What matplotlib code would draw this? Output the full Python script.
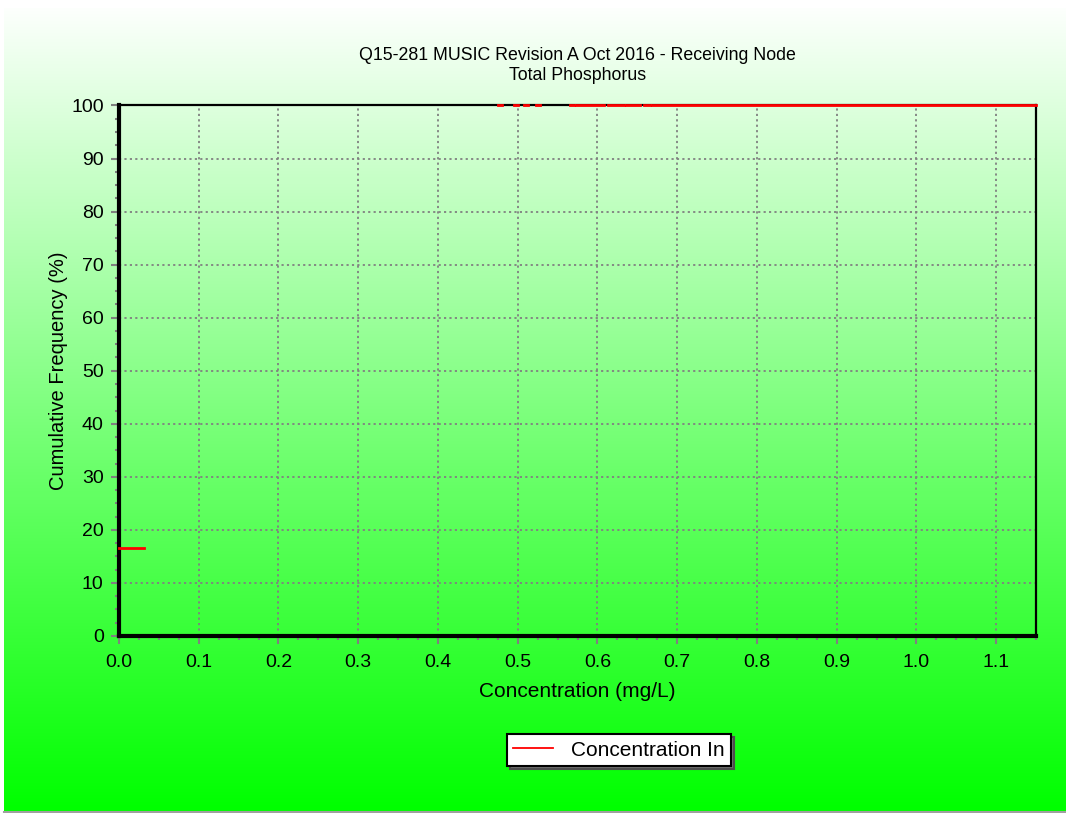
import numpy as np
import matplotlib
matplotlib.use("Agg")
import matplotlib.pyplot as plt
from matplotlib.ticker import MultipleLocator

plt.rcParams["font.family"] = ["Liberation Sans", "DejaVu Sans"]

TITLE = "Q15-281 MUSIC Revision A Oct 2016 - Receiving Node\nTotal Phosphorus"
SERIES_NAME = "Concentration In"

# Cumulative frequency curve, stored as flat runs (start, end, level)
seg_start = [0.0, 0.4755, 0.4956, 0.5082, 0.5232, 0.5659, 0.5734,
             0.6135, 0.6361, 0.6587, 0.6688]
seg_end = [0.031, 0.4806, 0.5006, 0.5132, 0.5282, 0.5709, 0.6085,
           0.6336, 0.6537, 0.6662, 1.15]
seg_level = [16.5, 100, 100, 100, 100, 100, 100, 100, 100, 100, 100]

X_MAX = 1.15
Y_MAX = 100


def build_line(starts, ends, levels):
    xs, ys = [], []
    for a, b, lv in zip(starts, ends, levels):
        xs += [a, b, np.nan]
        ys += [lv, lv, np.nan]
    return np.array(xs), np.array(ys)


W, H = 1066, 813
fig = plt.figure(figsize=(W / 100, H / 100), dpi=100)
fig.patch.set_facecolor("white")

# white-to-green vertical gradient backdrop
bg = fig.add_axes([4 / W, 1 - 811 / H, (W - 4) / W, (811 - 8) / H], zorder=0)
t = np.linspace(0, 1, 256)[:, None]
top = np.array([0.99, 1.0, 0.99])
bot = np.array([0.0, 1.0, 0.0])
grad = (1 - t)[..., None] * top + t[..., None] * bot
bg.imshow(np.repeat(grad, 2, axis=1), aspect="auto", extent=[0, 1, 0, 1])
bg.set_axis_off()
fig.add_artist(plt.Line2D([4 / W, 1], [1 - 812 / H] * 2, color="#a0a0a0",
                          lw=1.5, transform=fig.transFigure))

ax = fig.add_axes([119 / W, 1 - 636 / H, (1036 - 119) / W, (636 - 105.5) / H],
                  zorder=1)
ax.patch.set_alpha(0)

xs, ys = build_line(seg_start, seg_end, seg_level)
ax.plot(xs, ys, color="red", lw=2.0, label=SERIES_NAME, zorder=4,
        clip_on=False)

ax.set_xlim(0, X_MAX)
ax.set_ylim(0, Y_MAX)
ax.xaxis.set_major_locator(MultipleLocator(0.1))
ax.xaxis.set_minor_locator(MultipleLocator(0.025))
ax.yaxis.set_major_locator(MultipleLocator(10))
ax.yaxis.set_minor_locator(MultipleLocator(2.5))
ax.xaxis.set_major_formatter(plt.FuncFormatter(lambda v, p: f"{v:.1f}"))

ax.grid(True, which="major", color="#808080", linestyle=(0, (1.2, 1.8)),
        lw=1.3, zorder=1)
ax.set_axisbelow(True)

ax.tick_params(which="major", direction="out", length=6, width=1.5,
               color="#808080", labelsize=14)
ax.tick_params(axis="x", which="major", pad=7)
ax.tick_params(axis="y", which="major", pad=5)
ax.tick_params(which="minor", direction="out", length=3, width=1.5,
               color="#808080")

for side, lw in (("left", 3), ("bottom", 3), ("top", 1.6), ("right", 1.6)):
    ax.spines[side].set_linewidth(lw)
    ax.spines[side].set_color("black")
    ax.spines[side].set_zorder(3)

ax.set_xlabel("Concentration (mg/L)", fontsize=15, labelpad=8)
ax.set_ylabel("Cumulative Frequency (%)", fontsize=14.5, labelpad=2)
ax.set_title(TITLE, fontsize=12.8, pad=18, linespacing=1.25)

leg = fig.legend(loc="center", bbox_to_anchor=(619 / W, 1 - 750 / H),
                 fontsize=15, frameon=True, fancybox=False,
                 shadow={"facecolor": "#707070", "alpha": 1},
                 edgecolor="black", handlelength=1.9, borderpad=0.3,
                 handletextpad=0.9, borderaxespad=0)
leg.get_frame().set_linewidth(1.5)
leg.get_lines()[0].set_linewidth(1.3)

fig.savefig("out.png", dpi=100)
